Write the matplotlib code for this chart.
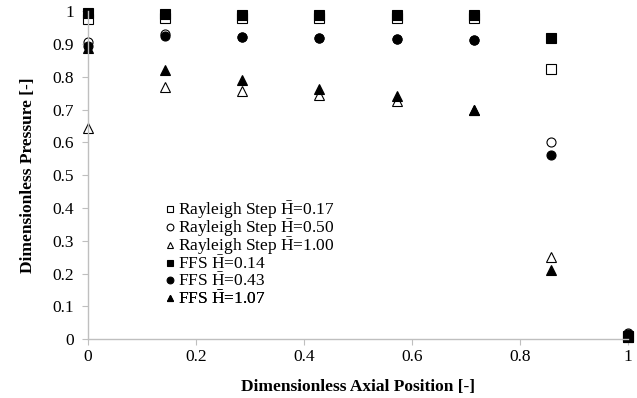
import numpy as np
import matplotlib
matplotlib.use("Agg")
from matplotlib import pyplot as plt

plt.rcParams['font.family'] = ['Liberation Serif', 'DejaVu Serif']
plt.rcParams['mathtext.fontset'] = 'custom'
plt.rcParams['mathtext.rm'] = 'Liberation Serif'

# axial stations
x_pos = [0, 1/7, 2/7, 3/7, 4/7, 5/7, 6/7, 1]

# Rayleigh step results
rs_017 = [0.975, 0.980, 0.980, 0.980, 0.980, 0.980, 0.823, 0.005]
rs_050 = [0.905, 0.930, 0.920, 0.918, 0.915, 0.912, 0.600, 0.020]
rs_100 = [0.645, 0.768, 0.755, 0.745, 0.725, 0.700, 0.250, 0.010]

# FFS results
ffs_014 = [0.995, 0.990, 0.987, 0.987, 0.987, 0.987, 0.918, 0.010]
ffs_043 = [0.895, 0.923, 0.920, 0.918, 0.915, 0.912, 0.561, 0.015]
ffs_107 = [0.887, 0.820, 0.790, 0.762, 0.742, 0.700, 0.210, 0.005]

hbar = r'$\bar{\mathrm{H}}$'
series = [
    (rs_017, 's', 'white', 'Rayleigh Step ' + hbar + '=0.17'),
    (rs_050, 'o', 'white', 'Rayleigh Step ' + hbar + '=0.50'),
    (rs_100, '^', 'white', 'Rayleigh Step ' + hbar + '=1.00'),
    (ffs_014, 's', 'black', 'FFS ' + hbar + '=0.14'),
    (ffs_043, 'o', 'black', 'FFS ' + hbar + '=0.43'),
    (ffs_107, '^', 'black', 'FFS ' + hbar + '=1.07'),
]

fig = plt.figure(figsize=(6.37, 3.98), dpi=100)
ax = fig.add_axes([0.138, 0.148, 0.848, 0.824])

lines = []
for vals, mk, fc, lab in series:
    ln, = ax.plot(x_pos, vals, linestyle='none', marker=mk, markersize=6.5,
                  markerfacecolor=fc, markeredgecolor='black',
                  markeredgewidth=0.8, label=lab, clip_on=False)
    lines.append(ln)

ax.set_xlim(0, 1)
ax.set_ylim(0, 1)
ax.set_xticks(np.arange(0, 1.01, 0.2))
ax.set_yticks(np.arange(0, 1.01, 0.1))
ax.set_xticklabels(['0', '0.2', '0.4', '0.6', '0.8', '1'])
ax.set_yticklabels(['0'] + ['%.1f' % v for v in np.arange(0.1, 0.95, 0.1)] + ['1'])

for side in ['top', 'right']:
    ax.spines[side].set_visible(False)
for side in ['left', 'bottom']:
    ax.spines[side].set_color('#bfbfbf')
    ax.spines[side].set_linewidth(1.0)
ax.tick_params(axis='both', colors='#bfbfbf', labelcolor='black',
               labelsize=12.5, length=4, direction='out')
ax.tick_params(axis='x', pad=3)
ax.tick_params(axis='y', pad=6)

ax.set_xlabel('Dimensionless Axial Position [-]', fontsize=12.5,
              fontweight='bold', labelpad=10)
ax.set_ylabel('Dimensionless Pressure [-]', fontsize=12.5,
              fontweight='bold', labelpad=12)

# one small legend per series so the mathtext bar doesn't upset row spacing
row_top = 0.393
row_step = 0.0543
for i, ln in enumerate(lines):
    leg = ax.legend([ln], [ln.get_label()], loc='center left',
                    bbox_to_anchor=(0.144, row_top - i * row_step),
                    frameon=False, fontsize=12.5, handlelength=0.5,
                    handletextpad=0.2, markerscale=0.75, borderpad=0,
                    borderaxespad=0)
    ax.add_artist(leg)

fig.savefig('out.png', dpi=100)
